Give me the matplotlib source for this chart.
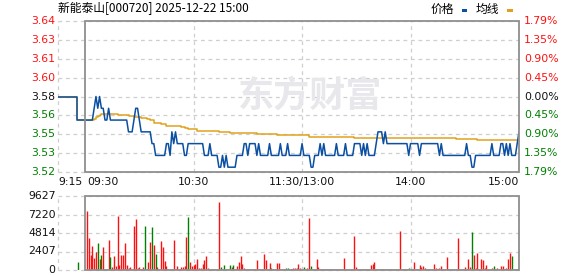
import matplotlib
matplotlib.use("Agg")
import matplotlib.pyplot as plt
import matplotlib.transforms as mtransforms
from matplotlib.patches import Rectangle
import numpy as np

# --- data ---
title = "新能泰山[000720] 2025-12-22 15:00"
prev_close = 3.58
pct_max = 1.79
price_labels = ["3.64", "3.63", "3.61", "3.60", "3.58", "3.56", "3.55", "3.53", "3.52"]
pct_labels = ["1.79%", "1.35%", "0.90%", "0.45%", "0.00%", "0.45%", "0.90%", "1.35%", "1.79%"]
vol_max = 9627
vol_labels = ["9627", "7220", "4814", "2407", "0"]
time_ticks = [-15, 0, 60, 120, 180, 240]
time_labels = ["9:15", "09:30", "10:30", "11:30/13:00", "14:00", "15:00"]

# call auction (9:15-9:30)
pre_minutes = [-15, -4.5, -4.5, 0]
pre_price = [3.58, 3.58, 3.56, 3.56]
auction_minute = -4
auction_volume = 1080

# one value per minute, 9:30 .. 15:00 (lunch removed)
price = [
    3.56, 3.56, 3.56, 3.56, 3.56, 3.57, 3.58, 3.57, 3.58, 3.57,
    3.57, 3.56, 3.56, 3.57, 3.56, 3.56, 3.56, 3.56, 3.56, 3.56,
    3.56, 3.56, 3.56, 3.56, 3.55, 3.55, 3.55, 3.56, 3.57, 3.57,
    3.56, 3.55, 3.55, 3.55, 3.55, 3.55, 3.55, 3.54, 3.54, 3.53,
    3.53, 3.53, 3.53, 3.53, 3.53, 3.54, 3.54, 3.53, 3.55, 3.54,
    3.55, 3.54, 3.54, 3.54, 3.54, 3.53, 3.53, 3.54, 3.54, 3.54,
    3.54, 3.54, 3.54, 3.54, 3.54, 3.54, 3.53, 3.53, 3.53, 3.54,
    3.53, 3.53, 3.53, 3.53, 3.52, 3.52, 3.53, 3.52, 3.53, 3.52,
    3.52, 3.52, 3.52, 3.52, 3.53, 3.53, 3.53, 3.53, 3.54, 3.54,
    3.53, 3.54, 3.54, 3.54, 3.54, 3.53, 3.54, 3.53, 3.53, 3.53,
    3.53, 3.53, 3.54, 3.53, 3.53, 3.53, 3.53, 3.53, 3.54, 3.53,
    3.53, 3.53, 3.54, 3.53, 3.53, 3.53, 3.53, 3.53, 3.53, 3.53,
    3.54, 3.53, 3.53, 3.53, 3.53, 3.52, 3.52, 3.53, 3.53, 3.53,
    3.54, 3.53, 3.54, 3.53, 3.53, 3.53, 3.53, 3.53, 3.53, 3.54,
    3.53, 3.53, 3.53, 3.53, 3.54, 3.53, 3.53, 3.53, 3.53, 3.54,
    3.54, 3.54, 3.54, 3.53, 3.54, 3.53, 3.54, 3.53, 3.53, 3.53,
    3.53, 3.54, 3.55, 3.55, 3.55, 3.54, 3.55, 3.54, 3.54, 3.54,
    3.54, 3.54, 3.54, 3.54, 3.54, 3.54, 3.54, 3.54, 3.54, 3.53,
    3.54, 3.54, 3.54, 3.54, 3.54, 3.53, 3.54, 3.54, 3.54, 3.54,
    3.54, 3.54, 3.54, 3.54, 3.54, 3.54, 3.53, 3.54, 3.53, 3.53,
    3.53, 3.53, 3.53, 3.53, 3.53, 3.53, 3.53, 3.53, 3.53, 3.53,
    3.53, 3.54, 3.53, 3.53, 3.52, 3.52, 3.53, 3.53, 3.53, 3.53,
    3.53, 3.53, 3.53, 3.53, 3.53, 3.54, 3.53, 3.53, 3.53, 3.53,
    3.54, 3.54, 3.53, 3.54, 3.53, 3.54, 3.53, 3.53, 3.53, 3.54,
    3.55,
]

# average price line, as steps (minute where a new level starts)
avg_minutes = [0, 5, 6, 7, 8, 9, 18, 21, 24, 27, 31, 34, 36, 38, 42, 45, 53, 55,
               57, 60, 62, 68, 74, 80, 87, 95, 106, 124, 149, 205, 217, 240]
avg_price = [3.5600, 3.5610, 3.5625, 3.5635, 3.5645, 3.5653, 3.5647, 3.5640,
             3.5632, 3.5627, 3.5618, 3.5610, 3.5604, 3.5579, 3.5568, 3.5553,
             3.5542, 3.5530, 3.5525, 3.5520, 3.5511, 3.5506, 3.5497, 3.5491,
             3.5486, 3.5483, 3.5469, 3.5460, 3.5449, 3.5441, 3.5432, 3.5432]

volume = [
    0, 7675, 4120, 1950, 3120, 1600, 2385, 3555, 1470, 1950,
    3035, 90, 90, 3900, 1734, 350, 1820, 520, 7068, 650,
    1950, 1950, 3555, 650, 220, 350, 90, 5724, 6634, 220,
    350, 90, 350, 5724, 90, 1084, 3686, 5637, 3252, 2081,
    350, 90, 3772, 3035, 1170, 520, 170, 170, 170, 3900,
    170, 520, 90, 350, 350, 520, 4250, 6850, 1084, 520,
    650, 780, 1430, 260, 260, 737, 1300, 1820, 260, 130,
    130, 130, 130, 130, 8845, 347, 90, 607, 170, 170,
    607, 350, 650, 170, 520, 1084, 1820, 780, 220, 170,
    170, 170, 170, 170, 170, 1300, 170, 90, 170, 2081,
    1300, 90, 954, 260, 170, 170, 867, 867, 90, 90,
    170, 220, 260, 90, 170, 220, 220, 260, 780, 220,
    90, 347, 90, 260, 6720, 520, 130, 90, 1430, 350,
    170, 130, 130, 130, 130, 130, 130, 130, 130, 130,
    130, 130, 130, 1560, 130, 130, 130, 130, 130, 4420,
    350, 130, 130, 130, 130, 170, 130, 130, 650, 780,
    1040, 130, 130, 130, 130, 130, 130, 130, 130, 130,
    130, 130, 130, 130, 5073, 130, 130, 130, 130, 260,
    130, 130, 1040, 130, 130, 607, 434, 520, 260, 130,
    130, 130, 130, 780, 260, 170, 260, 520, 130, 170,
    1734, 130, 130, 130, 170, 130, 4205, 130, 130, 130,
    434, 130, 1470, 434, 4986, 1950, 260, 2255, 130, 1430,
    1300, 260, 650, 130, 130, 260, 520, 130, 260, 130,
    520, 520, 130, 220, 1430, 2168, 1820, 130, 130, 130,
    5333,
]
green_minutes = [7, 9, 14, 33, 37, 39, 46, 52, 57, 75, 77, 80, 82, 103, 111, 112,
                 121, 125, 146, 147, 151, 162, 163, 165, 179, 183, 214, 226, 236]

# --- styling ---
BLUE = "#0b4fa3"
ORANGE = "#e0a21e"
RED = "#ff1010"
GREEN = "#008000"
GRID = "#cfcfcf"
BORDER = "#8f8f8f"
CJK = ["Noto Sans CJK SC", "DejaVu Sans"]
W, H = 578, 276

minutes = np.arange(len(price))
low = prev_close * (1 - pct_max / 100)
high = prev_close * (1 + pct_max / 100)
price_levels = np.linspace(high, low, len(price_labels))
vol_levels = np.linspace(vol_max, 0, len(vol_labels))


def box(x0, y0, x1, y1):
    return [x0 / W, 1 - y1 / H, (x1 - x0) / W, (y1 - y0) / H]


def frame(ax, levels):
    ax.set_xlim(-15, 240)
    ax.set_ylim(levels[-1], levels[0])
    ax.set_facecolor("none")
    for s in ax.spines.values():
        s.set_visible(False)
    ax.set_xticks([])
    ax.set_yticks([])
    dash = (0, (3, 3))
    for y in levels:
        ax.axhline(y, color=GRID, lw=0.9, ls=dash, clip_on=False, zorder=0)
    for x in [-15, 60, 120, 180]:
        ax.axvline(x, color=GRID, lw=0.9, ls=dash, clip_on=False, zorder=0)
    trans = mtransforms.blended_transform_factory(ax.transData, ax.transAxes)
    ax.add_patch(Rectangle((0, 0), 240, 1, transform=trans, fill=False,
                           ec=BORDER, lw=1.3, clip_on=False, zorder=6))


fig = plt.figure(figsize=(W / 100, H / 100), dpi=100)
fig.patch.set_facecolor("white")

ax = fig.add_axes(box(58, 21, 519, 172))
axv = fig.add_axes(box(58, 196, 519, 270))
frame(ax, price_levels)
frame(axv, vol_levels)

# watermark
fig.text(310 / W, 1 - 96 / H, "东方财富", family=CJK, fontsize=26, fontweight="bold",
         color="#e8e8ec", ha="center", va="center", zorder=0.5)

# price panel
ax.step(avg_minutes, avg_price, where="post", color=ORANGE, lw=1.1, zorder=3)
ax.plot(pre_minutes, pre_price, color=ORANGE, lw=1.1, zorder=3)
ax.plot(pre_minutes, pre_price, color=BLUE, lw=1.1, zorder=4)
ax.plot(minutes, price, color=BLUE, lw=1.1, zorder=4)

ylab = mtransforms.blended_transform_factory(ax.transAxes, ax.transData)
for i, (y, lab, pct) in enumerate(zip(price_levels, price_labels, pct_labels)):
    c = RED if i < 4 else ("#111111" if i == 4 else GREEN)
    ax.text(-0.005, y, lab, transform=ylab, ha="right", va="center",
            fontsize=7.8, color=c)
    ax.text(1.011, y, pct, transform=ylab, ha="left", va="center",
            fontsize=7.8, color=c)

# time labels
tlab = mtransforms.blended_transform_factory(ax.transData, ax.transAxes)
aligns = ["left", "left", "center", "center", "center", "right"]
shift = [0, 1, 0, 0, 0, 0]
for t, lab, ha, dx in zip(time_ticks, time_labels, aligns, shift):
    ax.text(t + dx, -0.068, lab, transform=tlab, ha=ha, va="center",
            fontsize=7.8, color="#111111")

# volume panel
bar_colors = [GREEN if m in green_minutes else RED for m in minutes]
axv.vlines(minutes, 0, volume, colors=bar_colors, lw=1.0, zorder=3)
axv.vlines([auction_minute], 0, [auction_volume], colors=GREEN, lw=1.0, zorder=3)
vlab = mtransforms.blended_transform_factory(axv.transAxes, axv.transData)
for y, lab in zip(vol_levels, vol_labels):
    axv.text(-0.005, y, lab, transform=vlab, ha="right", va="center",
             fontsize=7.8, color="#111111")

# header
fig.text(58 / W, 1 - 9 / H, title, family=CJK, fontsize=8.5, ha="left", va="center")
fig.text(454 / W, 1 - 9 / H, "价格", family=CJK, fontsize=8.5, ha="right", va="center")
fig.text(476 / W, 1 - 9 / H, "均线", family=CJK, fontsize=8.5, ha="left", va="center")
fig.add_artist(Rectangle((462 / W, 1 - 12 / H), 5 / W, 3 / H, transform=fig.transFigure,
                         color=BLUE, lw=0))
fig.add_artist(Rectangle((507 / W, 1 - 12 / H), 6 / W, 3 / H, transform=fig.transFigure,
                         color=ORANGE, lw=0))

fig.savefig("out.png", dpi=100)
